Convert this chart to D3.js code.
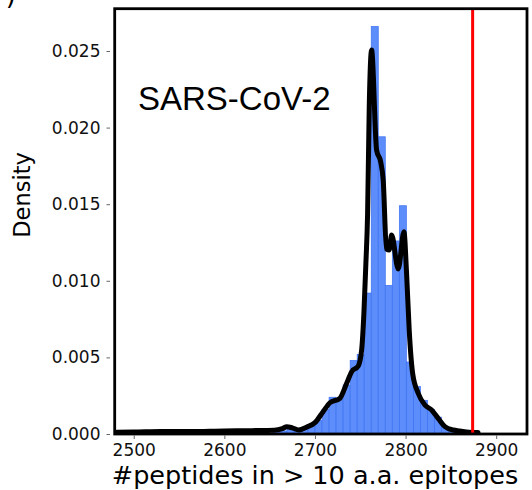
<!DOCTYPE html>
<html>
<head>
<meta charset="utf-8">
<script src="https://cdn.jsdelivr.net/npm/d3@7"></script>
<style>
  body { margin: 0; background: #fff; }
  svg { display: block; font-family: "DejaVu Sans", sans-serif; }
</style>
</head>
<body>
<script>
// histogram bins (left edges) and their densities
var binEdges = [2653.6, 2661.35, 2669.1, 2676.85, 2684.6, 2692.35, 2700.1, 2707.85,
    2715.6, 2723.35, 2731.1, 2738.85, 2746.6, 2754.35, 2762.1, 2769.85, 2777.6,
    2785.35, 2793.1, 2800.85, 2808.6, 2816.35, 2824.1, 2831.85, 2839.6, 2847.35,
    2855.1, 2862.85];
var binDensity = [0.0001, 0.0002, 0.0003, 0.0002, 0.0003, 0.0005, 0.0009, 0.0016,
    0.0024, 0.0023, 0.0032, 0.0048, 0.0052, 0.0092, 0.0266, 0.0194, 0.0097,
    0.0126, 0.0149, 0.0047, 0.0031, 0.0022, 0.0016, 0.0011, 0.0005, 0.0002,
    0.0001];

// kde curve
var kdeX = [2481, 2500, 2530, 2560, 2600, 2630, 2655, 2664, 2669, 2675, 2682, 2691,
    2700, 2709, 2716.5, 2727.5, 2735, 2740.5, 2747.8, 2751.5, 2754, 2756.2, 2758.1,
    2759.9, 2762.5, 2768, 2772.5, 2775.3, 2778.9, 2781.9, 2784.6, 2791.9, 2798.2,
    2801.1, 2804, 2807.8, 2813.9, 2821.3, 2828.7, 2836, 2843.4, 2852.6, 2860, 2870, 2880];
var kdeY = [0.00012, 0.00013, 0.00017, 0.00016, 0.0002, 0.00022, 0.00024, 0.00035, 0.00048,
    0.0004, 0.00026, 0.00046, 0.00074, 0.00146, 0.00204, 0.00233, 0.00331, 0.00407,
    0.00444, 0.00548, 0.00788, 0.01114, 0.0144, 0.02136, 0.02506, 0.01854, 0.01777,
    0.01658, 0.01208, 0.01201, 0.01299, 0.01077, 0.0132, 0.01049, 0.00679, 0.00396,
    0.00266, 0.00189, 0.00157, 0.00102, 0.00048, 0.00026, 0.0002, 0.00012, 0.0001];

var xTicks = [2500, 2600, 2700, 2800, 2900];
var yTicks = [0, 0.005, 0.010, 0.015, 0.020, 0.025];
var refValue = 2874;
var binWidth = 7.75;

var width = 532, height = 490;

var svg = d3.select("body").append("svg")
    .attr("width", width)
    .attr("height", height);

var x = d3.scaleLinear().domain([2479, 2934]).range([114.7, 527]);
var y = d3.scaleLinear().domain([0, 0.02776]).range([434, 8.7]);

// bars
svg.selectAll(".bar")
    .data(binDensity)
    .enter()
    .append("rect")
    .attr("class", "bar")
    .attr("x", function(d, i) { return x(binEdges[i]); })
    .attr("width", function(d, i) { return x(binEdges[i] + binWidth) - x(binEdges[i]); })
    .attr("y", function(d) { return y(d); })
    .attr("height", function(d) { return y(0) - y(d); })
    .attr("fill", "#5c8dfa")
    .attr("stroke", "#3b70f2")
    .attr("stroke-width", 0.7);

// kde line
var line = d3.line()
    .x(function(d, i) { return x(kdeX[i]); })
    .y(function(d) { return y(d); })
    .curve(d3.curveMonotoneX);

svg.append("path")
    .datum(kdeY)
    .attr("d", line)
    .attr("fill", "none")
    .attr("stroke", "#000")
    .attr("stroke-width", 5)
    .attr("stroke-linejoin", "round")
    .attr("stroke-linecap", "round");

// red reference line
svg.append("line")
    .attr("x1", x(refValue)).attr("x2", x(refValue))
    .attr("y1", y.range()[1]).attr("y2", y.range()[0])
    .attr("stroke", "#ff0000")
    .attr("stroke-width", 3);

// axes
var yAxis = svg.append("g")
    .attr("transform", "translate(110,0)")
    .call(d3.axisLeft(y).tickValues(yTicks).tickFormat(d3.format(".3f")).tickSize(3.5).tickPadding(6));

var xAxis = svg.append("g")
    .attr("transform", "translate(0,435.5)")
    .call(d3.axisBottom(x).tickValues(xTicks).tickFormat(d3.format("d")).tickSize(3.5).tickPadding(5));

[yAxis, xAxis].forEach(function(g) {
    g.select(".domain").remove();
    g.selectAll(".tick line").attr("stroke", "#666").attr("stroke-width", 1);
    g.selectAll(".tick text")
        .attr("fill", "#111")
        .style("font-family", "'DejaVu Sans', sans-serif")
        .style("font-size", "17px");
});

// frame
svg.append("rect")
    .attr("x", x.range()[0]).attr("y", y.range()[1])
    .attr("width", x.range()[1] - x.range()[0])
    .attr("height", y.range()[0] - y.range()[1])
    .attr("fill", "none")
    .attr("stroke", "#000")
    .attr("stroke-width", 2.8);

// labels
svg.append("text")
    .attr("x", 138).attr("y", 110)
    .style("font-family", "'Liberation Sans', Arial, sans-serif")
    .style("font-size", "33px")
    .text("SARS-CoV-2");

svg.append("text")
    .attr("transform", "translate(30,195) rotate(-90)")
    .attr("text-anchor", "middle")
    .style("font-size", "22.5px")
    .text("Density");

svg.append("text")
    .attr("x", 315).attr("y", 484)
    .attr("text-anchor", "middle")
    .style("font-size", "25.5px")
    .text("#peptides in > 10 a.a. epitopes");

// panel letter cut off at top
svg.append("text")
    .attr("x", 16).attr("y", 4)
    .attr("text-anchor", "end")
    .style("font-size", "26px")
    .text(")");
</script>
</body>
</html>
